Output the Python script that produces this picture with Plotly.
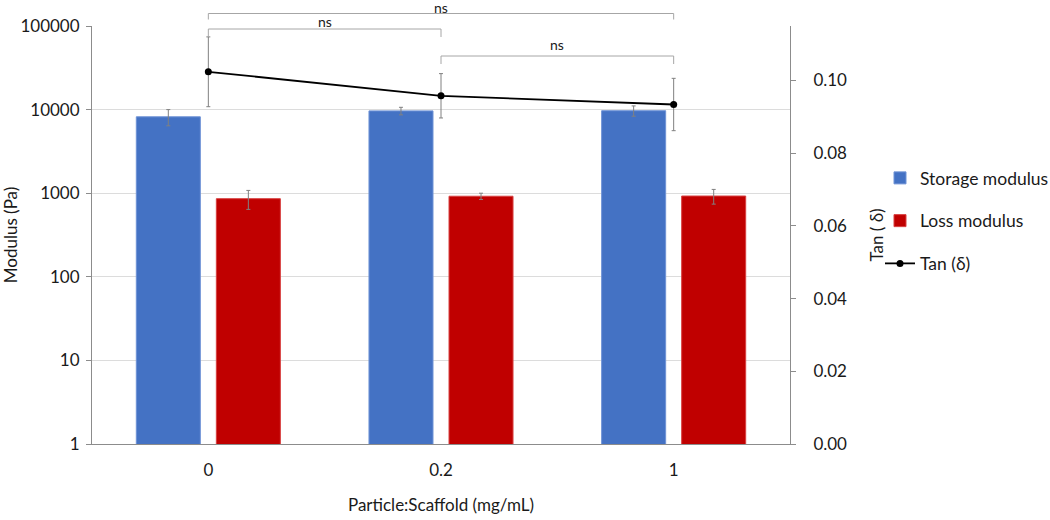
import plotly.graph_objects as go

# ---- data ----
categories = ["0", "0.2", "1"]
storage = [8200, 9650, 9700]
storage_err = [1800, 1000, 1370]
loss = [860, 920, 925]
loss_err = [220, 80, 185]
tan_delta = [0.1024, 0.0958, 0.0934]
tan_err = [0.0096, 0.0061, 0.0072]
left_ticks = [1, 10, 100, 1000, 10000, 100000]
left_ticktext = ["1", "10", "100", "1000", "10000", "100000"]
right_ticks = [0.0, 0.02, 0.04, 0.06, 0.08, 0.10]
# significance comparisons: (from category index, to category index, label)
comparisons = [(0, 2, "ns"), (0, 1, "ns"), (1, 2, "ns")]

# ---- layout geometry (pixels) ----
W, H = 1050, 520
L, R, T, B = 92, 790, 26, 444
FONT = "Lato, 'Open Sans', Arial, sans-serif"


def py(p):
    return (B - p) / (B - T)


def px(p):
    return (p - L) / (R - L)


ERR_COLOR = "#808080"

fig = go.Figure()
fig.add_trace(go.Bar(
    x=categories, y=storage, name="Storage modulus",
    marker=dict(color="#4472C4", line=dict(color="#6f93d6", width=1)),
    error_y=dict(type="data", array=storage_err, color=ERR_COLOR, thickness=1, width=2),
    legendgroup="a",
))
fig.add_trace(go.Bar(
    x=categories, y=loss, name="Loss modulus",
    marker=dict(color="#C00000", line=dict(color="#d84040", width=1)),
    error_y=dict(type="data", array=loss_err, color=ERR_COLOR, thickness=1, width=2),
    legendgroup="b",
))
fig.add_trace(go.Scatter(
    x=categories, y=tan_delta, name="Tan (δ)", yaxis="y2",
    mode="lines+markers",
    line=dict(color="black", width=1.8),
    marker=dict(color="black", size=7),
    error_y=dict(type="data", array=tan_err, color=ERR_COLOR, thickness=1, width=2),
    legendgroup="c",
))

axis_line = "#8c8c8c"
fig.update_layout(
    width=W, height=H,
    margin=dict(l=L, r=W - R, t=T, b=H - B, autoexpand=False),
    paper_bgcolor="white", plot_bgcolor="white",
    font=dict(family=FONT, size=17, color="#1a1a1a"),
    barmode="group", bargap=0.312, bargroupgap=0.2,
    xaxis=dict(
        type="category", range=[-0.5, 2.5],
        showline=True, linecolor=axis_line, linewidth=1,
        ticks="", showgrid=False, ticklabelstandoff=11,
        title=dict(text="Particle:Scaffold (mg/mL)", standoff=19, font=dict(size=17)),
    ),
    yaxis=dict(
        type="log", range=[0, 5],
        tickvals=left_ticks, ticktext=left_ticktext,
        showline=True, linecolor=axis_line, linewidth=1,
        ticks="outside", ticklen=5, tickcolor=axis_line,
        showgrid=True, gridcolor="#dcdcdc", gridwidth=1,
        zeroline=False, ticklabelstandoff=3,
        title=dict(text="Modulus (Pa)", standoff=8, font=dict(size=17)),
    ),
    yaxis2=dict(
        overlaying="y", side="right", range=[0, 0.115],
        tickvals=right_ticks, tickformat=".2f",
        showline=True, linecolor=axis_line, linewidth=1,
        ticks="outside", ticklen=5, tickcolor=axis_line,
        showgrid=False, zeroline=False, ticklabelstandoff=14,
        title=dict(text="Tan ( δ)", standoff=24, font=dict(size=17)),
    ),
    legend=dict(
        x=px(880), y=py(160), xanchor="left", yanchor="top",
        bgcolor="rgba(0,0,0,0)", font=dict(size=17.5),
        tracegroupgap=17, itemwidth=30, traceorder="grouped",
    ),
    showlegend=True,
)

# significance brackets
bracket_rows = [(13.5, 19.5, 7), (29, 37, 21.5), (56, 64, 45)]
for (i0, i1, label), (ytop, yend, ytxt) in zip(comparisons, bracket_rows):
    fig.add_shape(type="line", xref="x", yref="paper", x0=i0, x1=i0,
                  y0=py(yend), y1=py(ytop), line=dict(color="#a6a6a6", width=1))
    fig.add_shape(type="line", xref="x", yref="paper", x0=i0, x1=i1,
                  y0=py(ytop), y1=py(ytop), line=dict(color="#a6a6a6", width=1))
    fig.add_shape(type="line", xref="x", yref="paper", x0=i1, x1=i1,
                  y0=py(yend), y1=py(ytop), line=dict(color="#a6a6a6", width=1))
    fig.add_annotation(x=(i0 + i1) / 2, xref="x", y=py(ytxt), yref="paper",
                       text=label, showarrow=False, yanchor="middle",
                       font=dict(size=14, color="#1a1a1a"))

fig.write_html("out.html", config={"displayModeBar": False},
               post_script="document.body.style.margin='0';")
